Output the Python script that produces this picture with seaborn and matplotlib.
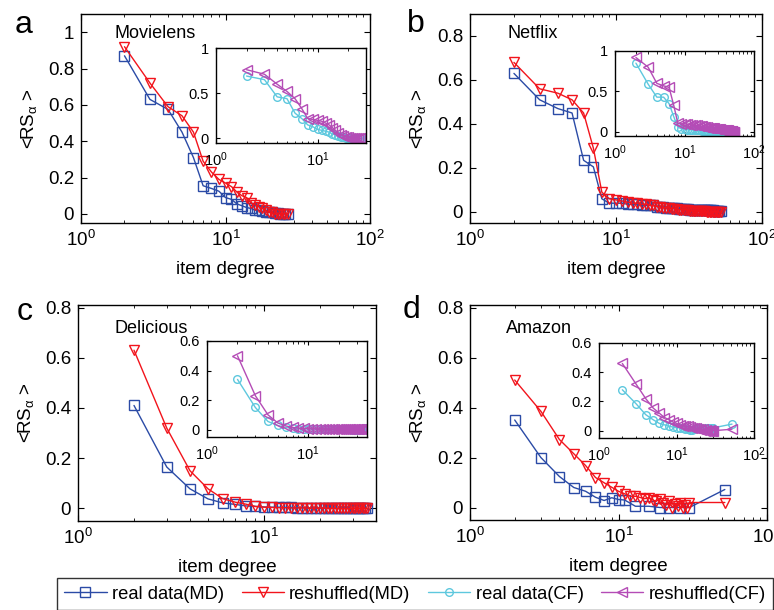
import numpy as np
import matplotlib
matplotlib.use("Agg")
import matplotlib.pyplot as plt
import seaborn as sns
from matplotlib.lines import Line2D
from matplotlib.ticker import FuncFormatter, LogLocator, NullFormatter

sns.set_theme(style="ticks", rc={
    "axes.edgecolor": "black", "xtick.color": "black", "ytick.color": "black",
    "text.color": "black", "axes.labelcolor": "black",
    "xtick.direction": "in", "ytick.direction": "in",
})
plt.rcParams["font.family"] = ["Liberation Sans", "DejaVu Sans"]
plt.rcParams["mathtext.fontset"] = "custom"
plt.rcParams["mathtext.rm"] = "Liberation Sans"
plt.rcParams["mathtext.it"] = "Liberation Sans:italic"
plt.rcParams["mathtext.sf"] = "Liberation Sans"

# ---- data ----
# a: Movielens
a_x = [2, 3, 4, 5, 6, 7, 8, 9, 10, 11, 12, 13, 14, 15, 16, 17, 18, 19, 20, 21,
       22, 23, 24, 25, 26, 27]
a_md_real = [0.87, 0.63, 0.575, 0.45, 0.31, 0.155, 0.14, 0.125, 0.09, 0.08,
             0.055, 0.045, 0.035, 0.03, 0.02, 0.02, 0.015, 0.01, 0.01, 0.01,
             0.005, 0.005, 0.0, 0.0, 0.0, 0.0]
a_md_shuf = [0.92, 0.72, 0.59, 0.54, 0.45, 0.29, 0.23, 0.19, 0.17, 0.15,
             0.12, 0.10, 0.09, 0.06, 0.05, 0.04, 0.03, 0.02, 0.01, 0.01,
             0.0, 0.0, 0.0, 0.0, 0.0, 0.0]
a_cf_real = [0.69, 0.65, 0.46, 0.44, 0.28, 0.22, 0.15, 0.13, 0.10, 0.09,
             0.08, 0.07, 0.05, 0.04, 0.03, 0.02, 0.02, 0.01, 0.01, 0.01,
             0.0, 0.0, 0.0, 0.0, 0.0, 0.0]
a_cf_shuf = [0.76, 0.71, 0.60, 0.52, 0.44, 0.33, 0.22, 0.21, 0.20, 0.19,
             0.17, 0.15, 0.12, 0.09, 0.06, 0.04, 0.03, 0.02, 0.02, 0.01,
             0.01, 0.01, 0.0, 0.0, 0.0, 0.0]

# b: Netflix
b_x = [2, 3, 4, 5, 6, 7, 8, 9, 10, 11, 12, 13, 14, 15, 16, 17, 18, 19, 20, 21,
       22, 23, 24, 25, 26, 27, 28, 29, 30, 31, 32, 33, 34, 35, 36, 37, 38, 39,
       40, 41, 42, 43, 44, 45, 46, 47, 48, 49, 50, 51, 52]
b_md_real = [0.63, 0.51, 0.47, 0.45, 0.235, 0.205, 0.06, 0.04, 0.04, 0.04,
             0.035, 0.035, 0.035, 0.03, 0.03, 0.03, 0.03, 0.025, 0.025, 0.025,
             0.02, 0.02, 0.02, 0.02, 0.02, 0.015, 0.015, 0.015, 0.015, 0.015,
             0.01, 0.01, 0.01, 0.01, 0.01, 0.01, 0.01, 0.01, 0.01, 0.01,
             0.01, 0.01, 0.01, 0.01, 0.01, 0.005, 0.005, 0.005, 0.005, 0.005, 0.005]
b_md_shuf = [0.68, 0.56, 0.54, 0.51, 0.45, 0.29, 0.09, 0.06, 0.055, 0.05,
             0.045, 0.04, 0.04, 0.035, 0.035, 0.03, 0.03, 0.025, 0.025, 0.02,
             0.02, 0.02, 0.015, 0.015, 0.015, 0.01, 0.01, 0.01, 0.01, 0.01,
             0.005, 0.005, 0.005, 0.005, 0.005, 0.005, 0.005, 0.005, 0.005, 0.005,
             0.0, 0.0, 0.0, 0.0, 0.0, 0.0, 0.0, 0.0, 0.0, 0.0, 0.0]
b_cf_real = [0.85, 0.59, 0.43, 0.43, 0.35, 0.19, 0.06, 0.04, 0.035, 0.03,
             0.03, 0.025, 0.025, 0.02, 0.02, 0.02, 0.015, 0.015, 0.015, 0.01,
             0.01, 0.01, 0.01, 0.01, 0.01, 0.01, 0.01, 0.01, 0.01, 0.01,
             0.005, 0.005, 0.005, 0.005, 0.005, 0.005, 0.005, 0.005, 0.005, 0.005,
             0.0, 0.0, 0.0, 0.0, 0.0, 0.0, 0.0, 0.0, 0.0, 0.0, 0.0]
b_cf_shuf = [0.92, 0.80, 0.60, 0.57, 0.55, 0.33, 0.11, 0.10, 0.10, 0.095,
             0.09, 0.085, 0.08, 0.08, 0.075, 0.07, 0.07, 0.065, 0.06, 0.06,
             0.055, 0.055, 0.05, 0.05, 0.045, 0.045, 0.04, 0.04, 0.04, 0.035,
             0.035, 0.03, 0.03, 0.03, 0.025, 0.025, 0.025, 0.02, 0.02, 0.02,
             0.02, 0.015, 0.015, 0.015, 0.01, 0.01, 0.01, 0.01, 0.005, 0.005, 0.005]

# c: Delicious
c_x = [2, 3, 4, 5, 6, 7, 8, 9, 10, 11, 12, 13, 14, 15, 16, 17, 18, 19, 20, 21,
       22, 23, 24, 25, 26, 27, 28, 29, 30, 31, 32, 33, 34, 35, 36]
c_md_real = [0.41, 0.165, 0.078, 0.038, 0.022, 0.016, 0.01, 0.008, 0.006, 0.005,
             0.005, 0.004, 0.004, 0.003, 0.003, 0.003, 0.002, 0.002, 0.002, 0.002,
             0.002, 0.001, 0.001, 0.001, 0.001, 0.001, 0.001, 0.001, 0.001, 0.001,
             0.0, 0.0, 0.0, 0.0, 0.0]
c_md_shuf = [0.63, 0.32, 0.15, 0.078, 0.039, 0.025, 0.017, 0.008, 0.005, 0.004,
             0.003, 0.003, 0.002, 0.002, 0.002, 0.001, 0.001, 0.001, 0.001, 0.001,
             0.0, 0.0, 0.0, 0.0, 0.0, 0.0, 0.0, 0.0, 0.0, 0.0,
             0.0, 0.0, 0.0, 0.0, 0.0]
c_cf_real = [0.34, 0.15, 0.055, 0.028, 0.015, 0.01, 0.007, 0.005, 0.004, 0.003,
             0.003, 0.002, 0.002, 0.002, 0.002, 0.001, 0.001, 0.001, 0.001, 0.001,
             0.001, 0.001, 0.001, 0.001, 0.001, 0.0, 0.0, 0.0, 0.0, 0.0,
             0.0, 0.0, 0.0, 0.005, 0.01]
c_cf_shuf = [0.50, 0.23, 0.10, 0.045, 0.025, 0.015, 0.01, 0.008, 0.006, 0.005,
             0.005, 0.004, 0.004, 0.003, 0.003, 0.003, 0.003, 0.002, 0.002, 0.002,
             0.002, 0.002, 0.002, 0.002, 0.002, 0.002, 0.002, 0.002, 0.002, 0.002,
             0.001, 0.001, 0.001, 0.001, 0.001]

# d: Amazon
d_x_real = [2, 3, 4, 5, 6, 7, 8, 9, 10, 11, 13, 16, 19, 22, 26, 30, 52]
d_md_real = [0.35, 0.20, 0.124, 0.08, 0.065, 0.041, 0.028, 0.039, 0.032, 0.03,
             0.005, 0.005, 0.0, 0.0, 0.0, 0.0, 0.072]
d_x = [2, 3, 4, 5, 6, 7, 8, 9, 10, 11, 12, 13, 14, 15, 16, 17, 18, 19, 20, 21,
       22, 23, 24, 25, 26, 27, 28, 29, 30, 52]
d_md_shuf = [0.51, 0.385, 0.272, 0.215, 0.168, 0.12, 0.099, 0.081, 0.065, 0.055,
             0.045, 0.045, 0.04, 0.035, 0.04, 0.03, 0.025, 0.035, 0.02, 0.01,
             0.025, 0.0, 0.015, 0.005, 0.02, 0.0, 0.01, 0.0, 0.02, 0.02]
d_cf_real = [0.28, 0.185, 0.11, 0.075, 0.05, 0.04, 0.03, 0.025, 0.02, 0.02,
             0.015, 0.01, 0.01, 0.005, 0.005, 0.01, 0.015, 0.02, 0.02, 0.015,
             0.01, 0.01, 0.015, 0.02, 0.02, 0.015, 0.02, 0.02, 0.02, 0.045]
d_cf_shuf = [0.46, 0.32, 0.22, 0.155, 0.12, 0.09, 0.075, 0.06, 0.05, 0.04,
             0.035, 0.03, 0.03, 0.025, 0.02, 0.02, 0.015, 0.01, 0.01, 0.005,
             0.01, 0.0, 0.005, 0.0, 0.0, 0.005, 0.0, 0.0, 0.0, 0.01]

names = ["Movielens", "Netflix", "Delicious", "Amazon"]
letters = ["a", "b", "c", "d"]
legend_labels = ["real data(MD)", "reshuffled(MD)", "real data(CF)", "reshuffled(CF)"]

BLUE, RED, CYAN, MAGENTA = "#2b4ba6", "#f2141c", "#5ec8de", "#b44cb6"


def draw(ax, x, y, color, marker, ms):
    sns.lineplot(x=x, y=y, ax=ax, color=color, marker=marker, markersize=ms,
                 markerfacecolor="none", markeredgecolor=color,
                 markeredgewidth=1.0, linewidth=1.0, estimator=None, sort=False)


def style(ax, xlim, ylim, yticks, fs, inset=False):
    ax.set_xscale("log")
    ax.set_xlim(*xlim)
    ax.set_ylim(*ylim)
    ax.set_yticks(yticks)
    ax.xaxis.set_major_locator(LogLocator(base=10, numticks=5))
    ax.xaxis.set_minor_locator(LogLocator(base=10, subs=np.arange(2, 10) * 1.0, numticks=20))
    ax.xaxis.set_minor_formatter(NullFormatter())
    ax.yaxis.set_major_formatter(FuncFormatter(lambda v, p: "%g" % round(v, 3)))
    ax.tick_params(which="both", direction="in", top=True, right=True,
                   bottom=True, left=True)
    ax.tick_params(which="major", length=4 if not inset else 3, width=0.8,
                   labelsize=fs, pad=5)
    ax.tick_params(which="minor", length=2.2 if not inset else 1.8, width=0.6)
    for s in ax.spines.values():
        s.set_linewidth(1.0)
        s.set_color("black")


fig = plt.figure(figsize=(7.74, 6.1), dpi=100)

W, H = 774.0, 610.0


def box(x0, y0, x1, y1):
    return [x0 / W, 1 - y1 / H, (x1 - x0) / W, (y1 - y0) / H]


main_boxes = [box(81, 14, 370, 223), box(470, 14, 762, 223),
              box(78, 305, 376, 521), box(470, 305, 767, 520)]
inset_boxes = [box(216, 48, 366, 143), box(615, 51, 754, 136),
               box(207, 341, 367, 437), box(599, 343, 754, 438)]

main_data = [
    ((a_x, a_md_real), (a_x, a_md_shuf)),
    ((b_x, b_md_real), (b_x, b_md_shuf)),
    ((c_x, c_md_real), (c_x, c_md_shuf)),
    ((d_x_real, d_md_real), (d_x, d_md_shuf)),
]
inset_data = [
    ((a_x, a_cf_real), (a_x, a_cf_shuf)),
    ((b_x, b_cf_real), (b_x, b_cf_shuf)),
    ((c_x, c_cf_real), (c_x, c_cf_shuf)),
    ((d_x, d_cf_real), (d_x, d_cf_shuf)),
]
main_xlim = [(1, 100), (1, 100), (1, 40), (1, 100)]
main_ylim = [(-0.05, 1.1), (-0.05, 0.9), (-0.05, 0.81), (-0.05, 0.81)]
main_yticks = [[0, 0.2, 0.4, 0.6, 0.8, 1], [0, 0.2, 0.4, 0.6, 0.8],
               [0, 0.2, 0.4, 0.6, 0.8], [0, 0.2, 0.4, 0.6, 0.8]]
inset_xlim = [(1, 30), (1, 100), (1, 38), (1, 100)]
inset_ylim = [(-0.05, 1.0), (-0.05, 1.0), (-0.05, 0.6), (-0.05, 0.6)]
inset_yticks = [[0, 0.5, 1], [0, 0.5, 1], [0, 0.2, 0.4, 0.6], [0, 0.2, 0.4, 0.6]]
name_pos = [(115, 38), (507, 38), (115, 333), (506, 333)]
letter_pos = [(24, 33), (416, 32), (25, 320), (412, 318)]

for i in range(4):
    ax = fig.add_axes(main_boxes[i])
    (rx, ry), (sx, sy) = main_data[i]
    draw(ax, rx, ry, BLUE, "s", 6.5)
    draw(ax, sx, sy, RED, "v", 7.5)
    style(ax, main_xlim[i], main_ylim[i], main_yticks[i], 13.5)
    ax.set_xlabel("item degree", fontsize=13.5, labelpad=8)
    ax.set_ylabel(r"<RS$_{\mathrm{α}}$ >", fontsize=13.5, labelpad=6)
    fig.text(name_pos[i][0] / W, 1 - name_pos[i][1] / H, names[i], fontsize=13)
    fig.text(letter_pos[i][0] / W, 1 - letter_pos[i][1] / H, letters[i],
             fontsize=23, ha="center", va="baseline")

    ins = fig.add_axes(inset_boxes[i])
    (rx, ry), (sx, sy) = inset_data[i]
    draw(ins, rx, ry, CYAN, "o", 5.5)
    draw(ins, sx, sy, MAGENTA, "<", 6.5)
    style(ins, inset_xlim[i], inset_ylim[i], inset_yticks[i], 10.5, inset=True)
    ins.set_xlabel("")
    ins.set_ylabel("")

handles = [
    Line2D([], [], color=BLUE, marker="s", markersize=6.5, markerfacecolor="none", lw=1.0),
    Line2D([], [], color=RED, marker="v", markersize=7.5, markerfacecolor="none", lw=1.0),
    Line2D([], [], color=CYAN, marker="o", markersize=5.5, markerfacecolor="none", lw=1.0),
    Line2D([], [], color=MAGENTA, marker="<", markersize=6.5, markerfacecolor="none", lw=1.0),
]
leg = fig.legend(handles, legend_labels, loc="lower left", bbox_to_anchor=(57 / W, 0.0),
                 ncol=4, frameon=True, fancybox=False, edgecolor="black",
                 fontsize=13.2, handlelength=2.3, handletextpad=0.3,
                 columnspacing=0.95, borderpad=0.4, borderaxespad=0.0)
leg.get_frame().set_linewidth(1.0)

fig.savefig("out.png", dpi=100)
